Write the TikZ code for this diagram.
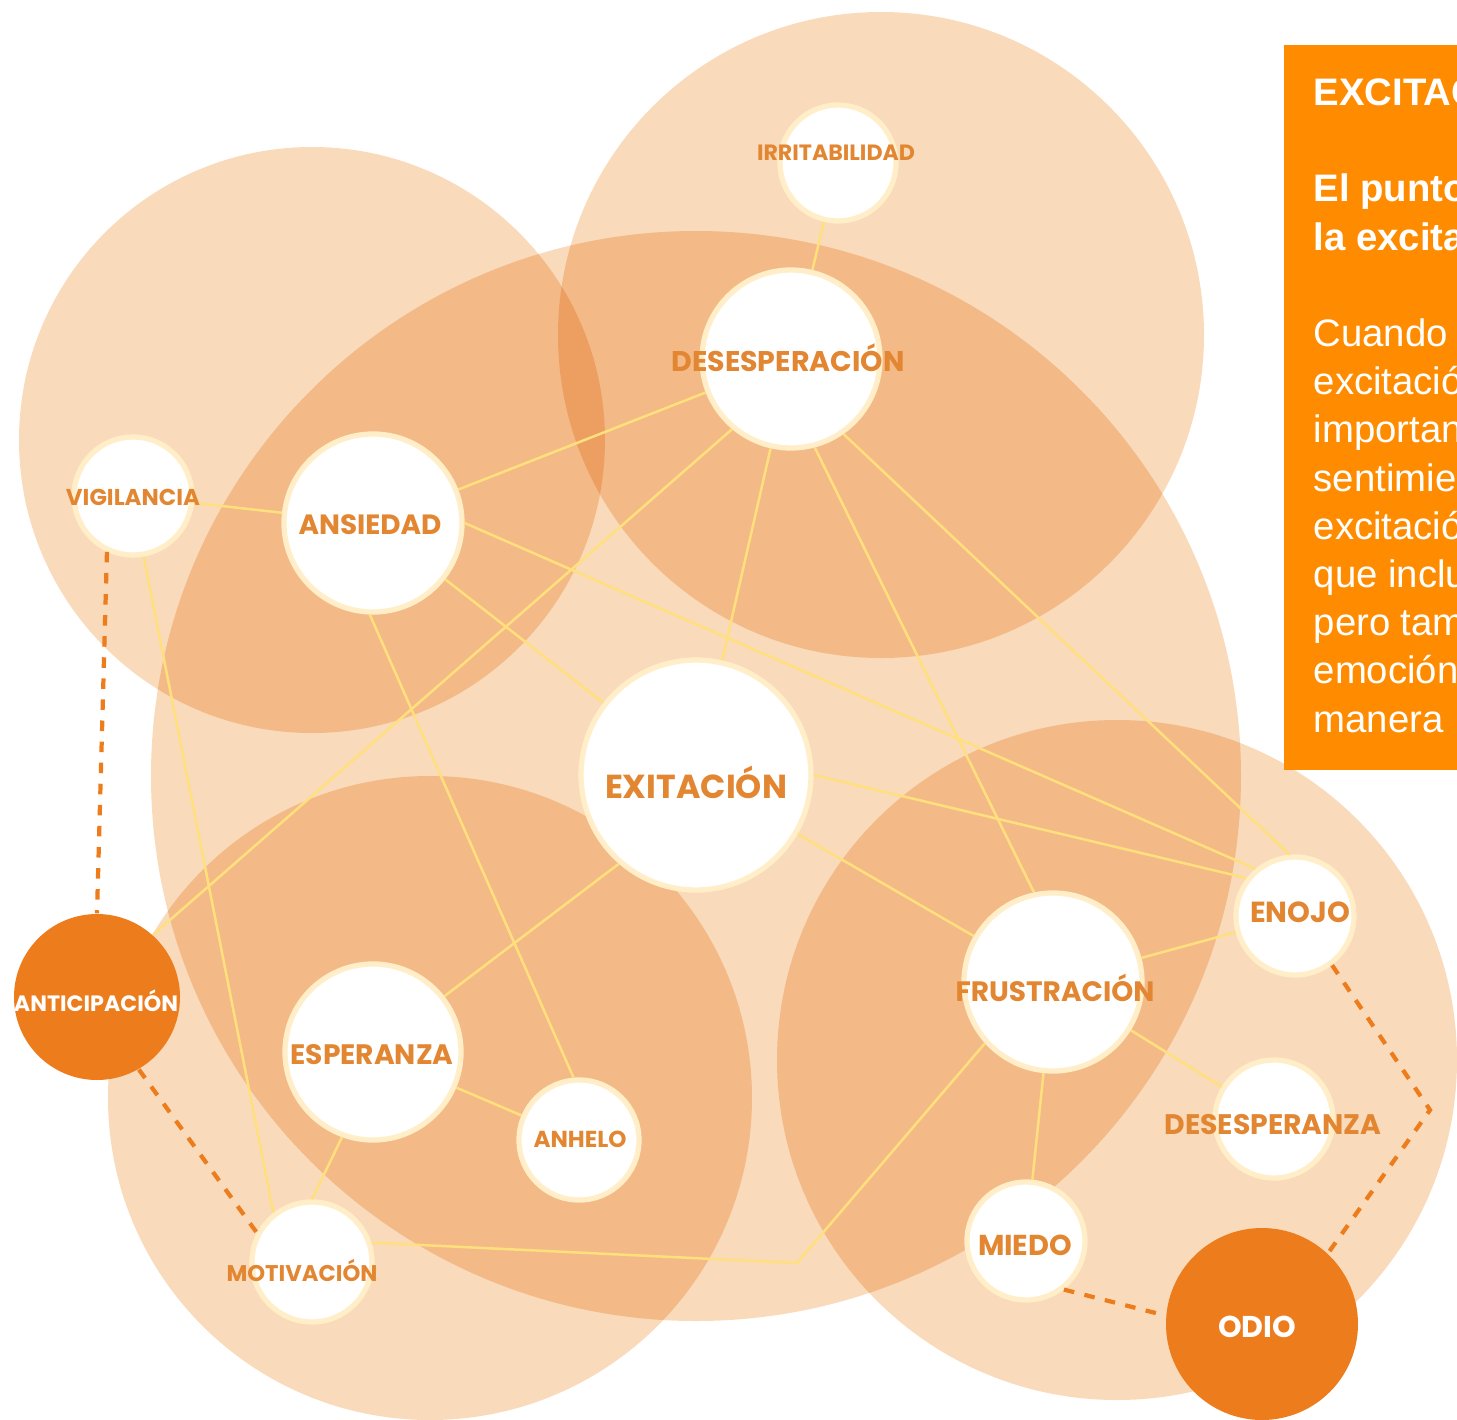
\documentclass[tikz,border=0pt]{standalone}
\usepackage{fontspec}
\usepackage{graphicx}
\newfontfamily\etiqfont{Poppins}
\newfontfamily\panelfont{Liberation Sans}
\definecolor{durazno}{RGB}{249,218,186}
\definecolor{amarillo}{RGB}{255,224,125}
\definecolor{naranja}{RGB}{237,124,28}
\definecolor{tostado}{RGB}{226,134,50}
\definecolor{crema}{RGB}{255,238,200}
\definecolor{vivo}{RGB}{255,140,0}
\newcommand{\ancho}[2]{\resizebox{#1cm}{!}{#2}}

\tikzset{
	emocion/.style={circle, fill=white, draw=crema, line width=1.5pt, inner sep=0pt, minimum size=#1},
	clave/.style={circle, fill=naranja, inner sep=0pt, minimum size=#1},
	etiq/.style={text=tostado, font=\etiqfont\bfseries, inner sep=0pt},
	etiqclara/.style={text=white, font=\etiqfont\bfseries, inner sep=0pt},
	enlace/.style={draw=amarillo, line width=0.7pt},
	trazo/.style={draw=naranja, line width=1.2pt, dash pattern=on 3pt off 3pt},
	renglon/.style={text=white, font=\panelfont\fontsize{10.9}{13}\selectfont, anchor=base west, inner sep=0pt},
}

\begin{document}
\begin{tikzpicture}
	\useasboundingbox (0,0) rectangle (14.57,-14.20);

	% zonas de fondo
	\begin{scope}[blend mode=multiply]
		\fill[durazno] (3.12,-4.40) circle (2.93);
		\fill[durazno] (8.81,-3.35) circle (3.23);
		\fill[durazno] (6.96,-7.76) circle (5.45);
		\fill[durazno] (4.30,-10.98) circle (3.22);
		\fill[durazno] (11.17,-10.60) circle (3.40);
	\end{scope}

	% emociones
	\node[emocion=1.16cm] (irr) at (8.38,-1.63) {};
	\node[emocion=1.78cm] (desp) at (7.91,-3.59) {};
	\node[emocion=1.18cm] (vig) at (1.33,-4.96) {};
	\node[emocion=1.78cm] (ans) at (3.73,-5.23) {};
	\node[emocion=2.30cm] (exit) at (6.96,-7.75) {};
	\node[emocion=1.76cm] (esp) at (3.73,-10.52) {};
	\node[emocion=1.20cm] (anh) at (5.79,-11.40) {};
	\node[emocion=1.20cm] (mot) at (3.12,-12.62) {};
	\node[clave=1.66cm] (ant) at (0.97,-9.97) {};
	\node[emocion=1.78cm] (fru) at (10.53,-9.82) {};
	\node[emocion=1.18cm] (eno) at (12.95,-9.16) {};
	\node[emocion=1.18cm] (dpz) at (12.74,-11.19) {};
	\node[emocion=1.18cm] (mie) at (10.26,-12.41) {};
	\node[clave=1.92cm] (odi) at (12.62,-13.24) {};

	\coordinate (quiebre) at (7.97,-12.63);
	\coordinate (giro) at (14.30,-11.10);

	% enlaces
	\draw[enlace] (irr) -- (desp);
	\draw[enlace] (desp) -- (ans);
	\draw[enlace] (desp) -- (exit);
	\draw[enlace] (desp.285) -- (fru.102);
	\draw[enlace] (desp.305) -- (eno.95);
	\draw[enlace] (desp.230) -- (ant.48);
	\draw[enlace] (vig) -- (ans);
	\draw[enlace] (vig.280) -- (mot.128);
	\draw[enlace] (ans.0) -- (eno.130);
	\draw[enlace] (ans) -- (exit);
	\draw[enlace] (ans.268) -- (anh.95);
	\draw[enlace] (exit.229) -- (esp.38);
	\draw[enlace] (exit.0) -- (eno.142);
	\draw[enlace] (exit) -- (fru);
	\draw[enlace] (esp) -- (anh);
	\draw[enlace] (esp.250) -- (mot.90);
	\draw[enlace] (mot.18) -- (quiebre) -- (fru.222);
	\draw[enlace] (fru) -- (eno);
	\draw[enlace] (fru) -- (dpz);
	\draw[enlace] (fru) -- (mie);

	\draw[trazo] (vig.245) -- (ant.90);
	\draw[trazo] (ant.300) -- (mot.152);
	\draw[trazo] (eno.307) -- (giro) -- (odi.47);
	\draw[trazo] (mie.308) -- (odi.175);

	% etiquetas
	\node[etiq] (irr-t) at (8.36,-1.53) {\ancho{1.58}{IRRITABILIDAD}};
	\node[etiq] (desp-t) at (7.88,-3.58) {\ancho{2.33}{DESESPERACIÓN}};
	\node[etiq] (vig-t) at (1.33,-4.97) {\ancho{1.34}{VIGILANCIA}};
	\node[etiq] (ans-t) at (3.70,-5.25) {\ancho{1.43}{ANSIEDAD}};
	\node[etiq] (exit-t) at (6.96,-7.82) {\ancho{1.82}{EXITACIÓN}};
	\node[etiq] (esp-t) at (3.72,-10.55) {\ancho{1.63}{ESPERANZA}};
	\node[etiq] (anh-t) at (5.80,-11.39) {\ancho{0.93}{ANHELO}};
	\node[etiq] (mot-t) at (3.02,-12.70) {\ancho{1.51}{MOTIVACIÓN}};
	\node[etiqclara] (ant-t) at (0.96,-10.01) {\ancho{1.64}{ANTICIPACIÓN}};
	\node[etiq] (fru-t) at (10.55,-9.88) {\ancho{1.99}{FRUSTRACIÓN}};
	\node[etiq] (eno-t) at (13.00,-9.12) {\ancho{1.00}{ENOJO}};
	\node[etiq] (dpz-t) at (12.73,-11.25) {\ancho{2.17}{DESESPERANZA}};
	\node[etiq] (mie-t) at (10.25,-12.45) {\ancho{0.94}{MIEDO}};
	\node[etiqclara] (odi-t) at (12.57,-13.27) {\ancho{0.78}{ODIO}};

	% recuadro de texto
	\begin{scope}
		\clip (12.84,-0.45) rectangle (14.57,-7.70);
		\fill[vivo] (12.84,-0.45) rectangle (14.57,-7.70);
		\foreach \y/\linea [count=\i] in {1.05/EXCITACIÓN, 2.01/El punto, 2.50/la excitación}
			\node[renglon, font=\panelfont\bfseries\fontsize{10.9}{13}\selectfont] (t\i) at (13.13,-\y) {\linea};
		\foreach \y/\linea [count=\i] in {3.46/Cuando, 3.94/excitación, 4.42/importante, 4.91/sentimiento, 5.39/excitación, 5.87/que incluye, 6.35/pero también, 6.83/emoción, 7.32/manera}
			\node[renglon] (c\i) at (13.13,-\y) {\linea};
	\end{scope}
\end{tikzpicture}
\end{document}
